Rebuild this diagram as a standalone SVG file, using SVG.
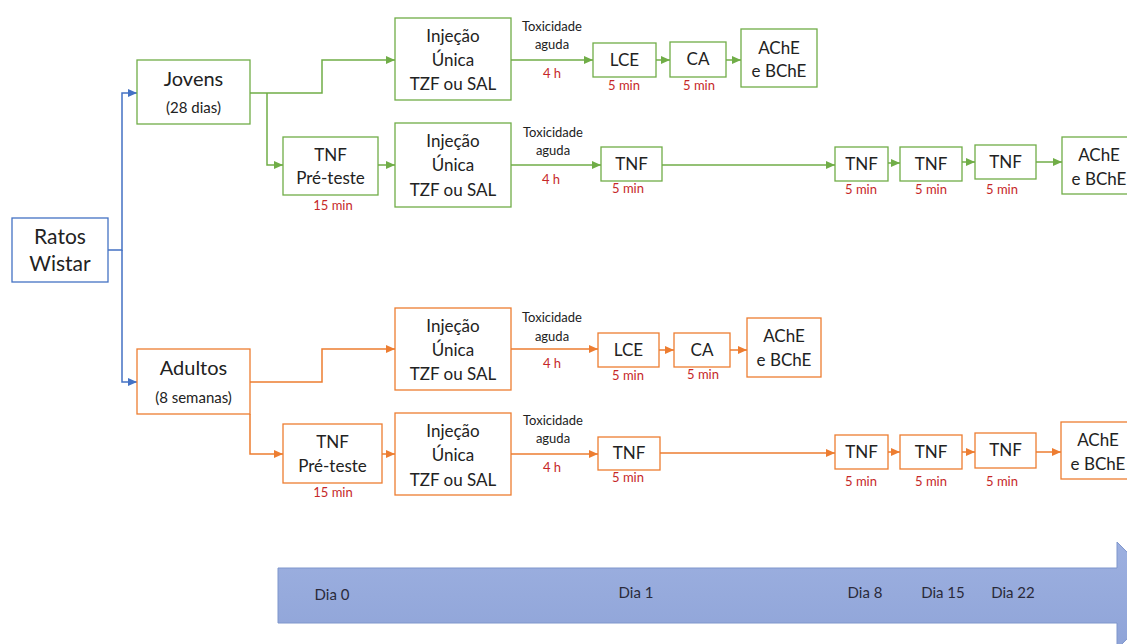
<svg xmlns="http://www.w3.org/2000/svg" width="1127" height="644" viewBox="0 0 1127 644">
<defs>
<marker id="ag" markerUnits="userSpaceOnUse" markerWidth="9" markerHeight="8" refX="9" refY="4" orient="auto"><path d="M0,0 L9,4 L0,8 Z" fill="#70AD47"/></marker>
<marker id="ao" markerUnits="userSpaceOnUse" markerWidth="9" markerHeight="8" refX="9" refY="4" orient="auto"><path d="M0,0 L9,4 L0,8 Z" fill="#ED7D31"/></marker>
<marker id="ab" markerUnits="userSpaceOnUse" markerWidth="9" markerHeight="8" refX="9" refY="4" orient="auto"><path d="M0,0 L9,4 L0,8 Z" fill="#4472C4"/></marker>
<linearGradient id="tl" x1="0" y1="0" x2="0" y2="1"><stop offset="0" stop-color="#9DB0E0"/><stop offset="1" stop-color="#8FA4D8"/></linearGradient>
</defs>
<style>
text{font-family:Lato,"Liberation Sans",sans-serif;fill:#222;text-anchor:middle}
.b{fill:#fff;stroke-width:1.3}
.g{stroke:#70AD47}.o{stroke:#ED7D31}.bl{stroke:#4472C4}
.t{font-size:17px}.l{font-size:20px}.s{font-size:15px}.lr{font-size:21px}
.sm{font-size:13px}
.r{font-size:13px;fill:#C62828}
.cg{fill:none;stroke:#70AD47;stroke-width:1.5;marker-end:url(#ag)}
.co{fill:none;stroke:#ED7D31;stroke-width:1.5;marker-end:url(#ao)}
.cb{fill:none;stroke:#4472C4;stroke-width:1.5;marker-end:url(#ab)}
.d{font-size:15px;fill:#2a2a3a}
</style>
<g id="timeline">
<path d="M278,568 H1117 V542 L1170,595.5 L1117,649 V623 H278 Z" fill="url(#tl)" stroke="#7F96CC" stroke-width="1"/>
<text class="d" x="332" y="600">Dia 0</text>
<text class="d" x="636" y="598">Dia 1</text>
<text class="d" x="865" y="598">Dia 8</text>
<text class="d" x="943" y="598">Dia 15</text>
<text class="d" x="1013" y="598">Dia 22</text>
</g>
<g id="connectors">
<path class="cb" d="M108,250 H122 V93 H137"/>
<path class="cb" d="M122,250 V382 H137"/>
<path class="cg" d="M250,93 H322 V60 H395"/>
<path class="cg" d="M267,93 V165 H283"/>
<path class="cg" d="M378,165 H395"/>
<path class="cg" d="M511,60 H593"/>
<path class="cg" d="M656,60 H670"/>
<path class="cg" d="M726,60 H741"/>
<path class="cg" d="M511,165 H601"/>
<path class="cg" d="M662,165 H835"/>
<path class="cg" d="M888,163 H900"/>
<path class="cg" d="M962,162 H975"/>
<path class="cg" d="M1036,162 H1062"/>
<path class="co" d="M250,382 H322 V349 H395"/>
<path class="co" d="M250,414 V454 H283"/>
<path class="co" d="M382,454 H395"/>
<path class="co" d="M511,349 H598"/>
<path class="co" d="M659,350 H674"/>
<path class="co" d="M730,350 H747"/>
<path class="co" d="M511,454 H598"/>
<path class="co" d="M660,453 H835"/>
<path class="co" d="M888,452 H900"/>
<path class="co" d="M962,452 H975"/>
<path class="co" d="M1036,452 H1061"/>
</g>
<g id="edge-labels">
<text class="sm" x="552" y="31">Toxicidade</text><text class="sm" x="552" y="49">aguda</text><text class="r" x="552" y="78">4 h</text>
<text class="sm" x="553" y="137">Toxicidade</text><text class="sm" x="553" y="155">aguda</text><text class="r" x="551" y="184">4 h</text>
<text class="sm" x="552" y="322">Toxicidade</text><text class="sm" x="552" y="341">aguda</text><text class="r" x="552" y="368">4 h</text>
<text class="sm" x="553" y="425">Toxicidade</text><text class="sm" x="553" y="443">aguda</text><text class="r" x="552" y="472">4 h</text>
</g>
<g id="ratos"><rect class="b bl" x="12" y="218" width="96" height="64"/><text class="lr" x="60" y="244">Ratos</text><text class="lr" x="60" y="271">Wistar</text></g>
<g id="jovens"><rect class="b g" x="137" y="60" width="113" height="64"/><text class="l" x="193.5" y="86">Jovens</text><text class="s" x="193.5" y="113">(28 dias)</text></g>
<g id="adultos"><rect class="b o" x="137" y="349" width="113" height="65"/><text class="l" x="193.5" y="375">Adultos</text><text class="s" x="193.5" y="403">(8 semanas)</text></g>
<g id="j-inj1"><rect class="b g" x="395" y="18" width="116" height="82"/><text class="t" x="453" y="42">Injeção</text><text class="t" x="453" y="66">Única</text><text class="t" x="453" y="90">TZF ou SAL</text></g>
<g id="j-lce"><rect class="b g" x="593" y="43" width="63" height="34"/><text class="t" x="624.5" y="66">LCE</text><text class="r" x="624" y="90">5 min</text></g>
<g id="j-ca"><rect class="b g" x="670" y="42" width="56" height="35"/><text class="t" x="698" y="65">CA</text><text class="r" x="699" y="90">5 min</text></g>
<g id="j-ache1"><rect class="b g" x="741" y="29" width="76" height="58"/><text class="t" x="779" y="54">AChE</text><text class="t" x="779" y="77">e BChE</text></g>
<g id="j-pre"><rect class="b g" x="283" y="137" width="95" height="58"/><text class="t" x="330.5" y="161">TNF</text><text class="t" x="330.5" y="184">Pré-teste</text><text class="r" x="333" y="210">15 min</text></g>
<g id="j-inj2"><rect class="b g" x="395" y="123" width="116" height="84"/><text class="t" x="453" y="147">Injeção</text><text class="t" x="453" y="171">Única</text><text class="t" x="453" y="196">TZF ou SAL</text></g>
<g id="j-tnf1"><rect class="b g" x="601" y="147" width="61" height="34"/><text class="t" x="631.5" y="170">TNF</text><text class="r" x="628" y="193">5 min</text></g>
<g id="j-tnf2"><rect class="b g" x="835" y="147" width="53" height="34"/><text class="t" x="861.5" y="170">TNF</text><text class="r" x="861" y="194">5 min</text></g>
<g id="j-tnf3"><rect class="b g" x="900" y="147" width="62" height="34"/><text class="t" x="931" y="170">TNF</text><text class="r" x="931" y="194">5 min</text></g>
<g id="j-tnf4"><rect class="b g" x="975" y="145" width="61" height="34"/><text class="t" x="1005.5" y="168">TNF</text><text class="r" x="1002" y="194">5 min</text></g>
<g id="j-ache2"><rect class="b g" x="1062" y="137" width="80" height="57"/><text class="t" x="1099" y="161">AChE</text><text class="t" x="1099" y="185">e BChE</text></g>
<g id="a-inj1"><rect class="b o" x="395" y="308" width="116" height="82"/><text class="t" x="453" y="332">Injeção</text><text class="t" x="453" y="356">Única</text><text class="t" x="453" y="380">TZF ou SAL</text></g>
<g id="a-lce"><rect class="b o" x="598" y="333" width="61" height="34"/><text class="t" x="628.5" y="356">LCE</text><text class="r" x="628" y="380">5 min</text></g>
<g id="a-ca"><rect class="b o" x="674" y="333" width="56" height="34"/><text class="t" x="702" y="356">CA</text><text class="r" x="703" y="379">5 min</text></g>
<g id="a-ache1"><rect class="b o" x="747" y="318" width="74" height="59"/><text class="t" x="784" y="342">AChE</text><text class="t" x="784" y="366">e BChE</text></g>
<g id="a-pre"><rect class="b o" x="283" y="424" width="99" height="59"/><text class="t" x="332.5" y="448">TNF</text><text class="t" x="332.5" y="472">Pré-teste</text><text class="r" x="333" y="497">15 min</text></g>
<g id="a-inj2"><rect class="b o" x="395" y="413" width="116" height="82"/><text class="t" x="453" y="437">Injeção</text><text class="t" x="453" y="461">Única</text><text class="t" x="453" y="486">TZF ou SAL</text></g>
<g id="a-tnf1"><rect class="b o" x="598" y="437" width="62" height="33"/><text class="t" x="629" y="459">TNF</text><text class="r" x="628" y="482">5 min</text></g>
<g id="a-tnf2"><rect class="b o" x="835" y="435" width="53" height="34"/><text class="t" x="861.5" y="458">TNF</text><text class="r" x="861" y="486">5 min</text></g>
<g id="a-tnf3"><rect class="b o" x="900" y="435" width="62" height="34"/><text class="t" x="931" y="458">TNF</text><text class="r" x="931" y="486">5 min</text></g>
<g id="a-tnf4"><rect class="b o" x="975" y="433" width="61" height="35"/><text class="t" x="1005.5" y="456">TNF</text><text class="r" x="1002" y="486">5 min</text></g>
<g id="a-ache2"><rect class="b o" x="1061" y="422" width="80" height="57"/><text class="t" x="1098" y="446">AChE</text><text class="t" x="1098" y="470">e BChE</text></g>
</svg>
